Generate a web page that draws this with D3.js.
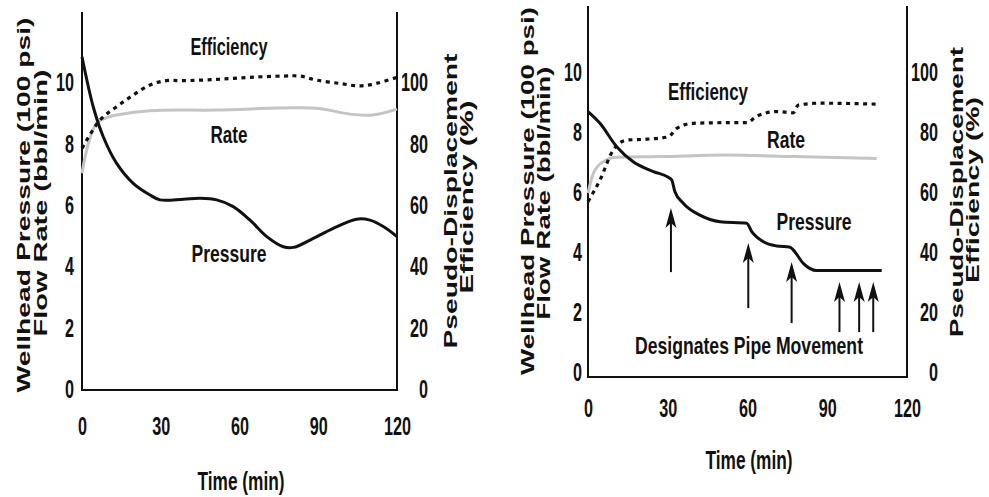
<!DOCTYPE html>
<html>
<head>
<meta charset="utf-8">
<script src="https://cdn.jsdelivr.net/npm/d3@7"></script>
<style>
  body { margin: 0; background: #fff; }
  text { font-family: "Liberation Sans", Arial, sans-serif; font-weight: bold; fill: #111; }
</style>
</head>
<body>
<div id="chart"></div>
<script>
// tick values
const timeTicks = [0, 30, 60, 90, 120]
const flowTicks = [0, 2, 4, 6, 8, 10]
const effTicks = [0, 20, 40, 60, 80, 100]

// left panel: [time (min), value]
const leftPressure = [[0, 10.84], [4.3, 9.2], [8.1, 8.23], [13.2, 7.36], [19.5, 6.71], [25.9, 6.33], [29.7, 6.17],
  [38.6, 6.19], [45, 6.22], [51.3, 6.17], [57.6, 5.95], [64, 5.51], [70.4, 4.97], [76.7, 4.64], [80.5, 4.62],
  [86.9, 4.86], [95.7, 5.24], [104.6, 5.54], [109.7, 5.51], [114.8, 5.3], [120, 4.97]]
const leftRate = [[0, 7.04], [2.4, 8.0], [5.6, 8.67], [10.7, 8.89], [13.2, 8.94], [25.9, 9.08], [51.3, 9.1],
  [89.2, 9.16], [101.9, 8.97], [110.8, 8.94], [120, 9.13]]
const leftEfficiency = [[0, 78.5], [6.9, 87.8], [13.2, 92.1], [19.5, 95.9], [25.9, 99.2], [32.1, 100.6], [38.6, 100.6],
  [51.3, 101], [64, 101.7], [76.7, 102.1], [83, 102.1], [89.2, 100.8], [98.1, 99.7], [105.7, 98.9], [112.1, 99.7], [120, 101.7]]

// right panel
const rightPressure = [[0, 8.68], [4.5, 8.29], [10.8, 7.51], [17, 7.01], [24.6, 6.68], [30.2, 6.49], [31.5, 6.4],
  [32.7, 6.01], [35.9, 5.62], [42.1, 5.23], [49.7, 5.01], [59.7, 4.96], [61.6, 4.68], [66, 4.34], [71, 4.2],
  [76, 4.16], [77.2, 4.07], [81, 3.62], [86, 3.38], [92.3, 3.38], [110.5, 3.38]]
const rightRate = [[0, 5.96], [2, 6.62], [5.8, 7.01], [10.8, 7.16], [27.1, 7.18], [52.2, 7.23], [77.2, 7.18], [108.6, 7.12]]
const rightEfficiency = [[0, 56.8], [4.5, 64], [9.5, 74], [14.6, 77.3], [22.1, 77.6], [30.2, 78.4], [33.4, 81.2],
  [39.6, 82.9], [52.2, 83.1], [59.7, 83.1], [63.5, 85.3], [71, 86.8], [77.2, 86.4], [79.1, 89], [87.3, 89.6], [108.6, 89.3]]

// pipe movement arrows
const arrowTimes = [31.2, 60.3, 76.6, 94.6, 102, 107.3]
const arrowTips = [5.47, 4.3, 3.67, 3.0, 3.0, 3.0]
const arrowBases = [3.33, 2.13, 1.63, 1.33, 1.33, 1.33]

const svg = d3.select('#chart').append('svg')
  .attr('width', 989).attr('height', 497)

function label(g, str, x, y, size, len, opts = {}) {
  const t = g.append('text')
    .attr('x', x).attr('y', y)
    .attr('font-size', size)
    .attr('text-anchor', opts.anchor || 'middle')
    .attr('textLength', len)
    .attr('lengthAdjust', 'spacingAndGlyphs')
    .text(str)
  if (opts.rotate) t.attr('transform', `rotate(-90, ${x}, ${y})`)
  return t
}

function styleTicks(sel) {
  sel.select('.domain').remove()
  sel.attr('font-size', 26).attr('font-family', null)
  sel.selectAll('text')
    .attr('textLength', d => String(d).length * 9)
    .attr('lengthAdjust', 'spacingAndGlyphs')
}

function panel(p) {
  const g = svg.append('g')
  const x = d3.scaleLinear().domain([0, 120]).range([p.x0, p.x1])
  const y = d3.scaleLinear().domain([0, p.vTop]).range([p.yZero, p.yTop])
  const yR = d3.scaleLinear().domain([0, p.vTop * 10]).range([p.yZero, p.yTop])

  // frame (left, bottom, right)
  g.append('path')
    .attr('d', `M${p.x0},${p.yTop}V${p.axisY}H${p.x1}V${p.yTop}`)
    .attr('fill', 'none').attr('stroke', '#111').attr('stroke-width', 2)

  g.append('g').attr('transform', `translate(${p.x0},0)`)
    .call(d3.axisLeft(y).tickValues(flowTicks).tickSize(0).tickPadding(p.x0 - p.leftEnd))
    .call(styleTicks)

  g.append('g').attr('transform', `translate(${p.x1},0)`)
    .call(d3.axisRight(yR).tickValues(effTicks).tickSize(0))
    .call(styleTicks)
    .selectAll('text')
    .attr('text-anchor', 'end').attr('x', p.rightEnd - p.x1)

  g.append('g').attr('transform', `translate(0,${p.axisY})`)
    .call(d3.axisBottom(x).tickValues(timeTicks).tickSize(0).tickPadding(p.xPad))
    .call(styleTicks)

  const line = d3.line().x(d => x(d[0])).y(d => y(d[1])).curve(p.curve)
  const lineR = d3.line().x(d => x(d[0])).y(d => yR(d[1])).curve(p.curve)

  g.append('path').datum(p.rate).attr('d', line)
    .attr('fill', 'none').attr('stroke', '#c4c4c4').attr('stroke-width', 3)
  g.append('path').datum(p.eff).attr('d', lineR)
    .attr('fill', 'none').attr('stroke', '#111').attr('stroke-width', 3.2)
    .attr('stroke-dasharray', '4,4.5')
  g.append('path').datum(p.pressure).attr('d', line)
    .attr('fill', 'none').attr('stroke', '#111').attr('stroke-width', 3)

  // axis titles
  label(g, 'Time (min)', p.timeX, p.timeY, 26, 87)
  label(g, 'Wellhead Pressure (100 psi)', p.lt1[0], p.lt1[1], 18, p.lt1[2], { rotate: true })
  label(g, 'Flow Rate (bbl/min)', p.lt2[0], p.lt2[1], 18, p.lt2[2], { rotate: true })
  label(g, 'Pseudo-Displacement', p.rt1[0], p.rt1[1], 18, p.rt1[2], { rotate: true })
  label(g, 'Efficiency (%)', p.rt2[0], p.rt2[1], 18, p.rt2[2], { rotate: true })

  // curve labels
  p.labels.forEach(l => label(g, l[0], l[1], l[2], 24, l[3]))

  return { g, x, y }
}

panel({
  x0: 82, x1: 397, yZero: 389, yTop: 12, axisY: 390, vTop: 12.3,
  leftEnd: 74, rightEnd: 428, xPad: 27, curve: d3.curveCatmullRom,
  pressure: leftPressure, rate: leftRate, eff: leftEfficiency,
  timeX: 241, timeY: 490,
  lt1: [30, 205, 375], lt2: [47, 203, 267], rt1: [457, 201, 295], rt2: [473, 197, 193],
  labels: [['Efficiency', 229, 55, 77], ['Rate', 229, 143, 37], ['Pressure', 229, 262, 75]]
})

const right = panel({
  x0: 588, x1: 907, yZero: 372, yTop: 6, axisY: 377, vTop: 12.2,
  leftEnd: 582, rightEnd: 938, xPad: 22, curve: d3.curveMonotoneX,
  pressure: rightPressure, rate: rightRate, eff: rightEfficiency,
  timeX: 749, timeY: 469,
  lt1: [534, 191, 368], lt2: [550, 193, 253], rt1: [963, 192, 290], rt2: [979, 190, 186],
  labels: [['Efficiency', 708, 100, 80], ['Rate', 786, 148, 38], ['Pressure', 814, 230, 75],
    ['Designates Pipe Movement', 749, 354, 228]]
})

// arrows marking pipe movement
const arrows = right.g.selectAll('.arrow')
  .data(arrowTimes.map((t, i) => ({ t, tip: arrowTips[i], base: arrowBases[i] })))
  .enter().append('g').attr('class', 'arrow')

arrows.append('line')
  .attr('x1', d => right.x(d.t)).attr('x2', d => right.x(d.t))
  .attr('y1', d => right.y(d.base)).attr('y2', d => right.y(d.tip) + 14)
  .attr('stroke', '#111').attr('stroke-width', 2)

arrows.append('path')
  .attr('d', d => {
    const cx = right.x(d.t), ty = right.y(d.tip)
    return `M${cx},${ty}L${cx - 5.5},${ty + 20}L${cx},${ty + 15}L${cx + 5.5},${ty + 20}Z`
  })
  .attr('fill', '#111')
</script>
</body>
</html>
